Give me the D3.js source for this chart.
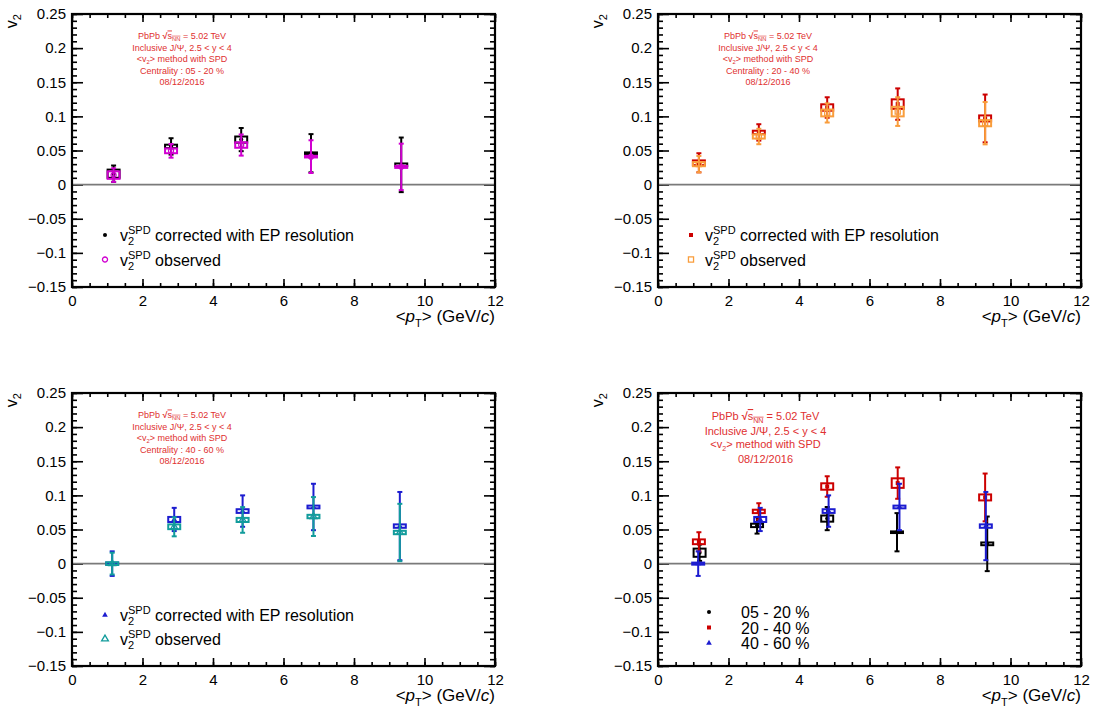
<!DOCTYPE html>
<html>
<head>
<meta charset="utf-8">
<script src="https://cdn.jsdelivr.net/npm/d3@7"></script>
<style>
  html, body { margin: 0; padding: 0; background: #fff; }
  svg { display: block; font-family: "Liberation Sans", Arial, Helvetica, sans-serif; }
</style>
</head>
<body>
<svg id="chart" width="1095" height="716"></svg>
<script>
// ---------------- data ----------------
const xTicks = [0, 2, 4, 6, 8, 10, 12];
const yTicks = [-0.15, -0.1, -0.05, 0, 0.05, 0.1, 0.15, 0.2, 0.25];

// 05 - 20 %
const pt05 = [1.18, 2.81, 4.80, 6.78, 9.34];
const v2Corr05 = [0.016, 0.056, 0.066, 0.046, 0.029];
const statCorr05 = [0.012, 0.012, 0.017, 0.028, 0.040];
const sysCorr05 = [0.006, 0.0025, 0.0045, 0.0012, 0.002];
const v2Obs05 = [0.014, 0.0495, 0.058, 0.041, 0.026];
const statObs05 = [0.010, 0.010, 0.0155, 0.024, 0.034];
const sysObs05 = [0.0055, 0.0035, 0.004, 0.0012, 0.0015];

// 20 - 40 %
const pt20 = [1.16, 2.86, 4.80, 6.80, 9.28];
const v2Corr20 = [0.032, 0.0765, 0.113, 0.118, 0.097];
const statCorr20 = [0.014, 0.012, 0.015, 0.023, 0.035];
const sysCorr20 = [0.0035, 0.0025, 0.0047, 0.007, 0.0044];
const v2Obs20 = [0.030, 0.0705, 0.105, 0.107, 0.090];
const statObs20 = [0.012, 0.0113, 0.014, 0.021, 0.031];
const sysObs20 = [0.003, 0.003, 0.005, 0.007, 0.0045];

// 40 - 60 %
const pt40 = [1.14, 2.90, 4.84, 6.85, 9.30];
const v2Corr40 = [0.000, 0.0647, 0.077, 0.083, 0.055];
const statCorr40 = [0.018, 0.017, 0.023, 0.034, 0.050];
const sysCorr40 = [0.0015, 0.0037, 0.0027, 0.002, 0.0025];
const v2Obs40 = [0.000, 0.054, 0.064, 0.069, 0.0456];
const statObs40 = [0.016, 0.014, 0.0188, 0.0285, 0.042];
const sysObs40 = [0.002, 0.0035, 0.003, 0.0025, 0.0025];

const centralityLabels = ["05 - 20 %", "20 - 40 %", "40 - 60 %"];
const sysHalfWidth = 0.17; // GeV/c

// ---------------- helpers ----------------
const svg = d3.select("#chart");
const annotColor = "#e03030";

function makeSeries(pt, v, stat, sys, color, symbol, size, filled) {
  return { data: pt.map((p, i) => ({ x: p, y: v[i], e: stat[i], s: sys[i] })), color, symbol, size, filled };
}

function drawPanel(left, top, w, h, seriesList, annot, annotFont, annotX, annotYs, legend) {
  const g = svg.append("g").attr("transform", `translate(${left},${top})`);
  const x = d3.scaleLinear().domain([0, 12]).range([0, w]);
  const y = d3.scaleLinear().domain([-0.15, 0.25]).range([h, 0]);

  const xMinor = d3.range(0, 12.001, 0.5);
  const yMinor = d3.range(-0.15, 0.2501, 0.01).map(d => +d.toFixed(3));

  const fmtY = d => d === 0 ? "0" : d3.format("~g")(d).replace("-", "\u2212");

  // axes (ROOT style: ticks inside)
  const ax = (gen) => g.append("g").call(gen).call(s => s.select(".domain").remove());
  ax(d3.axisLeft(y).tickValues(yMinor).tickSize(-5).tickFormat(""));
  ax(d3.axisLeft(y).tickValues(yTicks).tickSize(-11).tickPadding(6).tickFormat(fmtY))
    .selectAll("text").attr("font-size", 15).attr("fill", "#000").attr("font-family", "Liberation Sans, Arial, sans-serif");
  const r1 = ax(d3.axisRight(y).tickValues(yMinor).tickSize(-5).tickFormat(""));
  r1.attr("transform", `translate(${w},0)`);
  const r2 = ax(d3.axisRight(y).tickValues(yTicks).tickSize(-11).tickFormat(""));
  r2.attr("transform", `translate(${w},0)`);
  const b1 = ax(d3.axisBottom(x).tickValues(xMinor).tickSize(-4).tickFormat(""));
  b1.attr("transform", `translate(0,${h})`);
  const b2 = ax(d3.axisBottom(x).tickValues(xTicks).tickSize(-8).tickPadding(6).tickFormat(d3.format("d")));
  b2.attr("transform", `translate(0,${h})`);
  b2.selectAll("text").attr("font-size", 15).attr("fill", "#000").attr("dy", "0.85em").attr("font-family", "Liberation Sans, Arial, sans-serif");
  ax(d3.axisTop(x).tickValues(xMinor).tickSize(-4).tickFormat(""));
  ax(d3.axisTop(x).tickValues(xTicks).tickSize(-8).tickFormat(""));
  g.selectAll(".tick line").attr("stroke", "#000").attr("stroke-width", 1.6);

  // zero line
  g.append("line").attr("x1", x(0)).attr("x2", x(12)).attr("y1", y(0)).attr("y2", y(0))
    .attr("stroke", "#7a7a7a").attr("stroke-width", 1.6);

  // frame
  g.append("rect").attr("x", 0).attr("y", 0).attr("width", w).attr("height", h)
    .attr("fill", "none").attr("stroke", "#000").attr("stroke-width", 2.2);

  // annotation
  const ag = g.append("g").attr("fill", annotColor).attr("font-size", annotFont).attr("text-anchor", "middle");
  annot.forEach((line, i) => {
    const t = ag.append("text").attr("x", annotX).attr("y", annotYs[i]);
    line(t, annotFont);
  });

  // data
  seriesList.forEach(s => {
    const sg = g.append("g");
    // systematic boxes
    sg.selectAll("rect.sys").data(s.data).join("rect").attr("class", "sys")
      .attr("x", d => x(d.x - sysHalfWidth)).attr("width", d => x(d.x + sysHalfWidth) - x(d.x - sysHalfWidth))
      .attr("y", d => y(d.y + d.s)).attr("height", d => Math.max(1.5, y(d.y - d.s) - y(d.y + d.s)))
      .attr("fill", "none").attr("stroke", s.color).attr("stroke-width", 2);
    // stat bars
    sg.selectAll("line.stat").data(s.data).join("line").attr("class", "stat")
      .attr("x1", d => x(d.x)).attr("x2", d => x(d.x))
      .attr("y1", d => y(d.y + d.e)).attr("y2", d => y(d.y - d.e))
      .attr("stroke", s.color).attr("stroke-width", 2);
    ["top", "bot"].forEach(k => {
      sg.selectAll("line.cap" + k).data(s.data).join("line").attr("class", "cap" + k)
        .attr("x1", d => x(d.x) - 2.5).attr("x2", d => x(d.x) + 2.5)
        .attr("y1", d => y(k === "top" ? d.y + d.e : d.y - d.e))
        .attr("y2", d => y(k === "top" ? d.y + d.e : d.y - d.e))
        .attr("stroke", s.color).attr("stroke-width", 2);
    });
    sg.selectAll("path.mk").data(s.data).join("path").attr("class", "mk")
      .attr("transform", d => `translate(${x(d.x)},${y(d.y)})`)
      .attr("d", d3.symbol().type(s.symbol).size(s.size))
      .attr("fill", s.filled ? s.color : "none").attr("stroke", s.color).attr("stroke-width", s.filled ? 0 : 1.3);
  });

  // legend
  legend.items.forEach((it, i) => {
    const ly = legend.y0 + i * legend.dy;
    const s = it.series;
    g.append("path").attr("transform", `translate(${legend.mx},${ly})`)
      .attr("d", d3.symbol().type(s.symbol).size(s.size))
      .attr("fill", s.filled ? s.color : "none").attr("stroke", s.color).attr("stroke-width", s.filled ? 0 : 1.3);
    const t = g.append("text").attr("x", legend.tx).attr("y", ly + 6).attr("font-size", 16).attr("fill", "#000");
    it.label(t);
  });

  // axis titles
  const xt = g.append("text").attr("x", w).attr("y", h + 35).attr("text-anchor", "end").attr("font-size", 17).attr("fill", "#000");
  xt.append("tspan").text("<");
  xt.append("tspan").attr("font-style", "italic").text("p");
  xt.append("tspan").attr("font-size", 11).attr("dy", 5).text("T");
  xt.append("tspan").attr("dy", -5).text("> (GeV/");
  xt.append("tspan").attr("font-style", "italic").text("c");
  xt.append("tspan").text(")");

  const yt = g.append("text").attr("transform", `translate(${-55},0) rotate(-90)`).attr("text-anchor", "end")
    .attr("font-size", 16).attr("fill", "#000");
  yt.append("tspan").text("v");
  yt.append("tspan").attr("font-size", 11).attr("dy", 4).text("2");
}

// annotation line builders
function lineSqrt(t, fs) {
  t.append("tspan").text("PbPb ");
  t.append("tspan").attr("font-weight", "bold").text("\u221A");
  t.append("tspan").attr("text-decoration", "overline").text("s");
  t.append("tspan").attr("font-size", fs * 0.65).attr("dy", fs * 0.25).attr("text-decoration", "overline").text("NN");
  t.append("tspan").attr("dy", -fs * 0.25).text(" = 5.02 TeV");
}
function lineIncl(t) { t.text("Inclusive J/\u03A8, 2.5 < y < 4"); }
function lineMethod(t, fs) {
  t.append("tspan").text("<v");
  t.append("tspan").attr("font-size", fs * 0.65).attr("dy", fs * 0.3).text("2");
  t.append("tspan").attr("dy", -fs * 0.3).text("> method with SPD");
}
const lineCent = c => (t => t.text("Centrality : " + c));
function lineDate(t) { t.text("08/12/2016"); }

function labelV2(rest) {
  return t => {
    t.append("tspan").text("v");
    t.append("tspan").attr("font-size", 11).attr("dy", 4).text("2");
    t.append("tspan").attr("font-size", 11).attr("dx", -6.1).attr("dy", -11).text("SPD");
    t.append("tspan").attr("dy", 7).text(" " + rest);
  };
}

// colours / series
const cBlack = "#000000", cMag = "#d000d0", cRed = "#cc0000", cOrange = "#f99d3c", cBlue = "#1c1cd0", cTeal = "#129c9c";

const sCorr05 = makeSeries(pt05, v2Corr05, statCorr05, sysCorr05, cBlack, d3.symbolCircle, 13, true);
const sObs05 = makeSeries(pt05, v2Obs05, statObs05, sysObs05, cMag, d3.symbolCircle, 20, false);
const sCorr20 = makeSeries(pt20, v2Corr20, statCorr20, sysCorr20, cRed, d3.symbolSquare, 16, true);
const sObs20 = makeSeries(pt20, v2Obs20, statObs20, sysObs20, cOrange, d3.symbolSquare, 26, false);
const sCorr40 = makeSeries(pt40, v2Corr40, statCorr40, sysCorr40, cBlue, d3.symbolTriangle, 14, true);
const sObs40 = makeSeries(pt40, v2Obs40, statObs40, sysObs40, cTeal, d3.symbolTriangle, 20, false);

const W = 423, H = 273;
const smallYs = [24.5, 37, 47.5, 59.5, 71];

drawPanel(72, 14, W, H, [sCorr05, sObs05],
  [lineSqrt, lineIncl, lineMethod, lineCent(centralityLabels[0]), lineDate], 9, 110, smallYs,
  { mx: 33, tx: 48, y0: 221, dy: 24.5, items: [
    { series: sCorr05, label: labelV2("corrected with EP resolution") },
    { series: sObs05, label: labelV2("observed") } ] });

drawPanel(658, 14, W, H, [sCorr20, sObs20],
  [lineSqrt, lineIncl, lineMethod, lineCent(centralityLabels[1]), lineDate], 9, 110, smallYs,
  { mx: 33, tx: 47, y0: 221, dy: 24.5, items: [
    { series: sCorr20, label: labelV2("corrected with EP resolution") },
    { series: sObs20, label: labelV2("observed") } ] });

drawPanel(72, 393, W, H, [sCorr40, sObs40],
  [lineSqrt, lineIncl, lineMethod, lineCent(centralityLabels[2]), lineDate], 9, 110, smallYs,
  { mx: 33, tx: 48, y0: 222, dy: 24, items: [
    { series: sCorr40, label: labelV2("corrected with EP resolution") },
    { series: sObs40, label: labelV2("observed") } ] });

drawPanel(658, 393, W, H, [sCorr05, sCorr20, sCorr40],
  [lineSqrt, lineIncl, lineMethod, lineDate], 11, 107.5, [27, 42, 54.5, 70],
  { mx: 51, tx: 83, y0: 219, dy: 15.5, items: [
    { series: sCorr05, label: t => t.text(centralityLabels[0]) },
    { series: sCorr20, label: t => t.text(centralityLabels[1]) },
    { series: sCorr40, label: t => t.text(centralityLabels[2]) } ] });
</script>
</body>
</html>
